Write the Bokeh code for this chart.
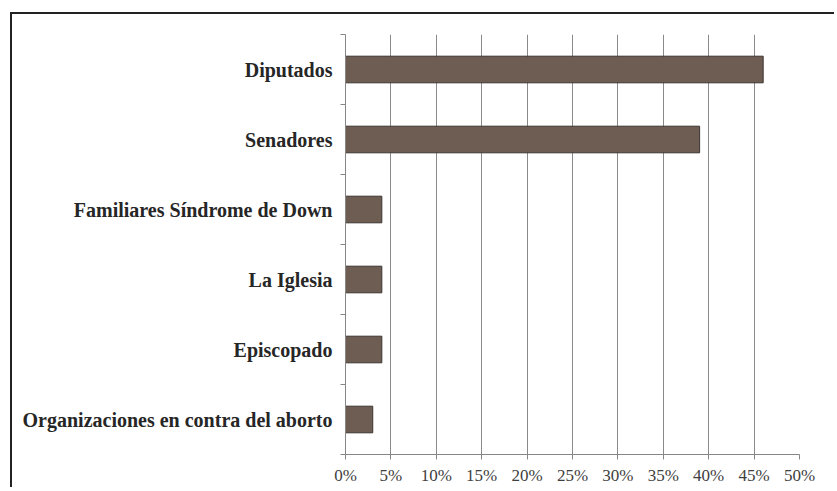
from bokeh.plotting import figure
from bokeh.models import FixedTicker, NumeralTickFormatter, Range1d
from bokeh.embed import file_html
from bokeh.resources import INLINE

categories = ["Diputados", "Senadores", "Familiares Síndrome de Down", "La Iglesia",
              "Episcopado", "Organizaciones en contra del aborto"]
values = [0.46, 0.39, 0.04, 0.04, 0.04, 0.03]
x_ticks = [0, 0.05, 0.10, 0.15, 0.20, 0.25, 0.30, 0.35, 0.40, 0.45, 0.50]

n = len(categories)
ypos = [n - i - 0.5 for i in range(n)]

p = figure(width=822, height=469, output_backend="svg", toolbar_location=None,
           x_range=Range1d(0, 0.5), y_range=Range1d(0, n),
           frame_width=454, frame_height=420,
           min_border_left=333, min_border_right=35, min_border_top=20, min_border_bottom=29)
p.outline_line_color = None
p.background_fill_color = "white"
p.border_fill_color = "white"
p.styles = {"border-top": "2px solid #222222", "border-left": "2px solid #222222",
            "margin-left": "10px", "margin-top": "12px"}

p.hbar(y=ypos, right=values, left=0, height=0.38, fill_color="#6e5d53",
       line_color="#3b3431", line_width=1)

# x axis
p.xaxis.ticker = FixedTicker(ticks=x_ticks)
p.xaxis.formatter = NumeralTickFormatter(format="0%")
p.xaxis.major_label_text_font = "Liberation Serif"
p.xaxis.major_label_text_font_size = "17px"
p.xaxis.major_label_text_color = "#404040"
p.xaxis.axis_line_color = "#868686"
p.xaxis.major_tick_line_color = "#868686"
p.xaxis.major_tick_out = 5
p.xaxis.major_tick_in = 0
p.xaxis.minor_tick_line_color = None
p.xaxis.major_label_standoff = 6

# y axis: labels at centres, tick marks at category boundaries
p.yaxis.ticker = FixedTicker(ticks=ypos, minor_ticks=list(range(n + 1)))
p.yaxis.major_label_overrides = {y: c for y, c in zip(ypos, categories)}
p.yaxis.major_label_text_font = "Liberation Serif"
p.yaxis.major_label_text_font_style = "bold"
p.yaxis.major_label_text_font_size = "20px"
p.yaxis.major_label_text_color = "#262626"
p.yaxis.major_tick_line_color = None
p.yaxis.minor_tick_line_color = "#868686"
p.yaxis.minor_tick_out = 5
p.yaxis.minor_tick_in = 0
p.yaxis.axis_line_color = "#868686"
p.yaxis.major_label_standoff = 7

p.xgrid.ticker = FixedTicker(ticks=x_ticks)
p.xgrid.grid_line_color = "#8a8a8a"
p.ygrid.grid_line_color = None

open("out.html", "w").write(file_html(p, INLINE))
